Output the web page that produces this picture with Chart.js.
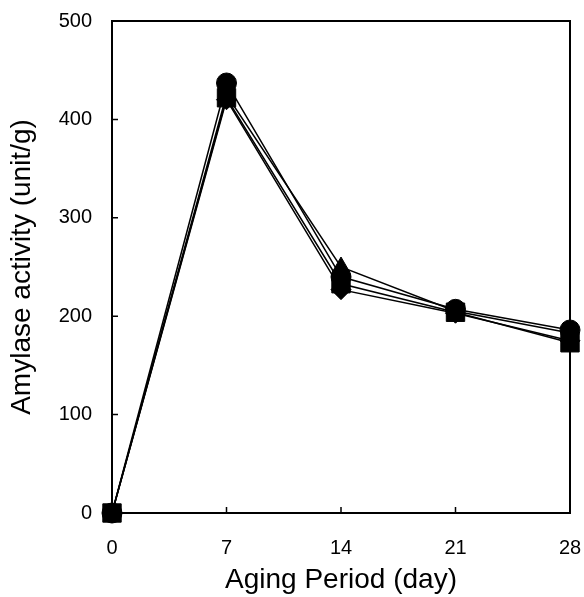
<!DOCTYPE html>
<html>
<head>
<meta charset="utf-8">
<script src="https://cdn.jsdelivr.net/npm/chart.js@4.4.1/dist/chart.umd.min.js"></script>
<style>
  html, body { margin: 0; padding: 0; background: #fff; }
  #wrap { width: 584px; height: 597px; }
</style>
</head>
<body>
<div id="wrap"><canvas id="amylaseChart" width="584" height="597"></canvas></div>
<script>
// Aging days (x) and amylase activity for the four samples
const days = [0, 7, 14, 21, 28];
const circleSeries = [0, 437, 240, 207, 186];
const triangleSeries = [0, 425, 250, 205, 183];
const diamondSeries = [0, 420, 227, 203, 175];
const squareSeries = [0, 422, 233, 204, 173];
const xTickValues = [0, 7, 14, 21, 28];
const yTickValues = [0, 100, 200, 300, 400, 500];

const FONT = '"Liberation Sans", Arial, Helvetica, sans-serif';

function toPoints(values) {
    return days.map((d, i) => ({ x: d, y: values[i] }));
}

function makeSet(label, values, style, radius) {
    return {
        label: label,
        data: toPoints(values),
        borderColor: '#000',
        backgroundColor: '#000',
        borderWidth: 1.5,
        pointStyle: style,
        pointRadius: radius,
        pointBackgroundColor: '#000',
        pointBorderColor: '#000',
        pointBorderWidth: 1,
        tension: 0,
        clip: false
    };
}

// Frame and inward tick marks, positioned with the chart's own scales
const framePlugin = {
    id: 'frame',
    afterDatasetsDraw(chart) {
        const { ctx, chartArea: a, scales } = chart;
        ctx.save();
        ctx.strokeStyle = '#000';
        ctx.lineWidth = 2;
        ctx.strokeRect(a.left, a.top, a.right - a.left, a.bottom - a.top);
        ctx.lineWidth = 1.5;
        ctx.beginPath();
        yTickValues.forEach(v => {
            const y = scales.y.getPixelForValue(v);
            ctx.moveTo(a.left, y);
            ctx.lineTo(a.left + 6, y);
        });
        xTickValues.forEach(v => {
            const x = scales.x.getPixelForValue(v);
            ctx.moveTo(x, a.bottom);
            ctx.lineTo(x, a.bottom - 6);
        });
        ctx.stroke();
        ctx.restore();
    }
};

const chart = new Chart(document.getElementById('amylaseChart'), {
    type: 'line',
    data: {
        datasets: [
            makeSet('Circle', circleSeries, 'circle', 10),
            makeSet('Triangle', triangleSeries, 'triangle', 10),
            makeSet('Diamond', diamondSeries, 'rectRot', 10),
            makeSet('Square', squareSeries, 'rect', 13)
        ]
    },
    options: {
        responsive: false,
        animation: false,
        devicePixelRatio: 1,
        layout: { padding: { top: 21, right: 14, left: 0, bottom: 0 } },
        plugins: {
            legend: { display: false },
            tooltip: { enabled: false }
        },
        scales: {
            x: {
                type: 'linear',
                min: 0,
                max: 28,
                afterBuildTicks(scale) {
                    scale.ticks = xTickValues.map(v => ({ value: v }));
                },
                afterFit(scale) {
                    scale.height = 84;
                    scale.paddingLeft = 0;
                    scale.paddingRight = 0;
                },
                grid: { display: false, drawTicks: false },
                border: { display: false },
                ticks: {
                    color: '#000',
                    padding: 23,
                    maxRotation: 0,
                    font: { size: 20, family: FONT }
                },
                title: {
                    display: true,
                    text: 'Aging Period (day)',
                    color: '#000',
                    font: { size: 28, family: FONT },
                    padding: { top: 0, bottom: 0 }
                }
            },
            y: {
                min: 0,
                max: 500,
                afterBuildTicks(scale) {
                    scale.ticks = yTickValues.map(v => ({ value: v }));
                },
                afterFit(scale) {
                    scale.width = 112;
                    scale.paddingTop = 0;
                    scale.paddingBottom = 0;
                },
                grid: { display: false, drawTicks: false },
                border: { display: false },
                ticks: {
                    color: '#000',
                    padding: 20,
                    font: { size: 20, family: FONT }
                },
                title: {
                    display: true,
                    text: 'Amylase activity (unit/g)',
                    color: '#000',
                    font: { size: 28, family: FONT },
                    padding: { top: 5, bottom: 0 }
                }
            }
        }
    },
    plugins: [framePlugin]
});
</script>
</body>
</html>
